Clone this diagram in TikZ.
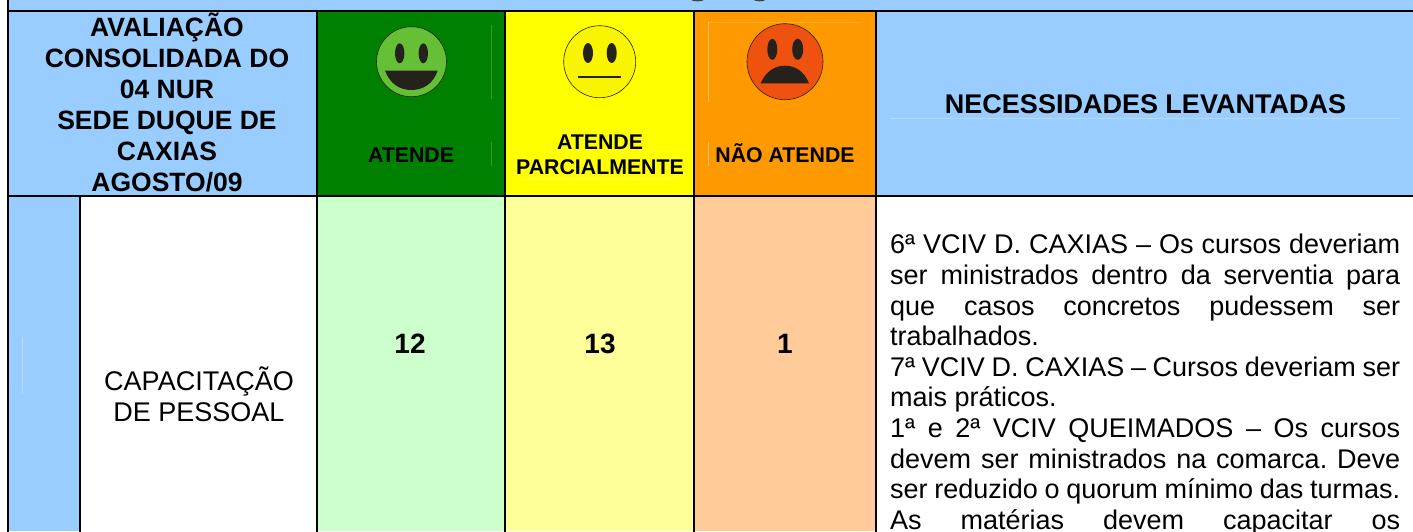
\documentclass[tikz,border=0pt]{standalone}
\usepackage{fontspec}
\setmainfont{Liberation Sans}
\definecolor{hblue}{HTML}{99CCFF}
\definecolor{hgreen}{HTML}{008000}
\definecolor{hyellow}{HTML}{FFFF00}
\definecolor{horange}{HTML}{FF9900}
\definecolor{lgreen}{HTML}{CCFFCC}
\definecolor{lyellow}{HTML}{FFFF99}
\definecolor{lorange}{HTML}{FFCC99}
\definecolor{fgreen}{HTML}{66C035}
\definecolor{fyellow}{HTML}{F9F500}
\definecolor{fred}{HTML}{EE520E}
\definecolor{fdark}{HTML}{25221E}
\tikzset{
 x=1pt,y=-1pt,
 gridline/.style={line width=1.6pt,black,line cap=rect},
 headtext/.style={font=\fontsize{26.5}{31}\selectfont\bfseries,align=center,inner sep=0pt},
 bighead/.style={font=\fontsize{27}{31}\selectfont\bfseries,inner sep=0pt},
 smalltext/.style={font=\fontsize{21.3}{24.5}\selectfont\bfseries,align=center,inner sep=0pt},
 numtext/.style={font=\fontsize{28}{31}\selectfont\bfseries,inner sep=0pt},
 bodyline/.style={font=\fontsize{27}{31}\selectfont,inner sep=0pt,anchor=base west},
 facering/.style={draw=fdark,line width=0.6pt},
 facedark/.style={fill=fdark,draw=none},
 faint/.style={line width=0.5pt,white,opacity=#1},
}
\newcommand{\justline}[2]{\node[bodyline] at (890,#1) {\hbox to 510pt{#2}};}
\begin{document}
\begin{tikzpicture}
\useasboundingbox (0,0) rectangle (1413,531);
\fill[white] (0,0) rectangle (1413,531);
% fills
\fill[hblue] (8,0) rectangle (1413,196);
\fill[hgreen] (317,11) rectangle (505,196);
\fill[hyellow] (505,11) rectangle (694,196);
\fill[horange] (694,11) rectangle (876,196);
\fill[hblue] (8,196) rectangle (80,531);
\fill[lgreen] (317,196) rectangle (505,531);
\fill[lyellow] (505,196) rectangle (694,531);
\fill[lorange] (694,196) rectangle (876,531);
% faint scan traces
\draw[faint=0.2] (491.5,25) -- (491.5,99);
\draw[faint=0.2] (491.5,142) -- (491.5,166);
\draw[faint=0.4] (521,179.5) -- (680,179.5);
\draw[faint=0.4] (708.5,22) -- (708.5,102);
\draw[faint=0.15] (708.5,22) -- (861,22);
\draw[faint=0.4] (708.5,142) -- (708.5,166);
\draw[faint=0.3] (890,118) -- (1400,118);
\draw[faint=0.3] (22.5,337) -- (22.5,394);
% grid
\draw[line width=1.2pt,black] (8,11) -- (1413,11);
\draw[gridline] (8,196) -- (1413,196);
\draw[gridline] (8,0) -- (8,531);
\draw[gridline] (80,196) -- (80,531);
\foreach \xx in {317,505,694,876}{\draw[gridline] (\xx,11) -- (\xx,531);}
% title descender traces
\fill[black!75] (697.5,0) ellipse (6 and 1.3);
\fill[black!75] (759.5,0) ellipse (5.5 and 1.3);
% header text
\node[headtext] (hA) at (167,102) {AVALIAÇÃO\\CONSOLIDADA DO\\04 NUR\\SEDE DUQUE DE\\CAXIAS\\AGOSTO/09};
\node[smalltext] (hB) at (411,155) {ATENDE};
\node[smalltext] (hC) at (600,155) {ATENDE\\PARCIALMENTE};
\node[smalltext] (hD) at (785,153) {NÃO ATENDE};
\node[bighead] (hE) at (1145.5,104) {NECESSIDADES LEVANTADAS};
% faces
\draw[facering,fill=fgreen] (411.5,61.7) circle (35);
\fill[facedark] (399.7,53.3) ellipse (4.7 and 10);
\fill[facedark] (423.3,53.3) ellipse (4.7 and 10);
\fill[facedark] (385,70.7) .. controls (390,84) and (400,90) .. (411.3,90) .. controls (423,90) and (433,84) .. (437.7,70.7) -- cycle;
\draw[facering,fill=fyellow] (599.7,61.7) circle (36);
\fill[facedark] (588,53) ellipse (5 and 10);
\fill[facedark] (611.7,53) ellipse (5 and 10);
\fill[facedark] (578,76) rectangle (621.3,78);
\draw[facering,fill=fred] (785,61.7) circle (38);
\fill[facedark] (772.3,49.3) ellipse (5 and 10.5);
\fill[facedark] (797.7,49.3) ellipse (5.5 and 10.5);
\fill[facedark] (760.7,83.3) .. controls (766,71) and (775,65.7) .. (785,65.7) .. controls (795,65.7) and (804,71) .. (809,83.3) -- cycle;
% body
\node[font=\fontsize{27}{31}\selectfont,align=center,inner sep=0pt] (cap) at (199,394) {CAPACITAÇÃO\\DE PESSOAL};
\node[numtext] (n1) at (410,344) {12};
\node[numtext] (n2) at (600,344) {13};
\node[numtext] (n3) at (785,344) {1};
\justline{253.5}{6ª\hfil VCIV\hfil D.\hfil CAXIAS\hfil –\hfil Os\hfil cursos\hfil deveriam}
\justline{284.5}{ser\hfil ministrados\hfil dentro\hfil da\hfil serventia\hfil para}
\justline{315}{que\hfil casos\hfil concretos\hfil pudessem\hfil ser}
\justline{345.5}{trabalhados.\hfil}
\justline{376}{7ª\hfil VCIV\hfil D.\hfil CAXIAS\hfil –\hfil Cursos\hfil deveriam\hfil ser}
\justline{406.5}{mais práticos.\hfil}
\justline{437.5}{1ª\hfil e\hfil 2ª\hfil VCIV\hfil QUEIMADOS\hfil –\hfil Os\hfil cursos}
\justline{468}{devem\hfil ser\hfil ministrados\hfil na\hfil comarca.\hfil Deve}
\justline{498.5}{ser\hfil reduzido\hfil o\hfil quorum\hfil mínimo\hfil das\hfil turmas.}
\justline{529}{As\hfil matérias\hfil devem\hfil capacitar\hfil os}
\end{tikzpicture}
\end{document}
